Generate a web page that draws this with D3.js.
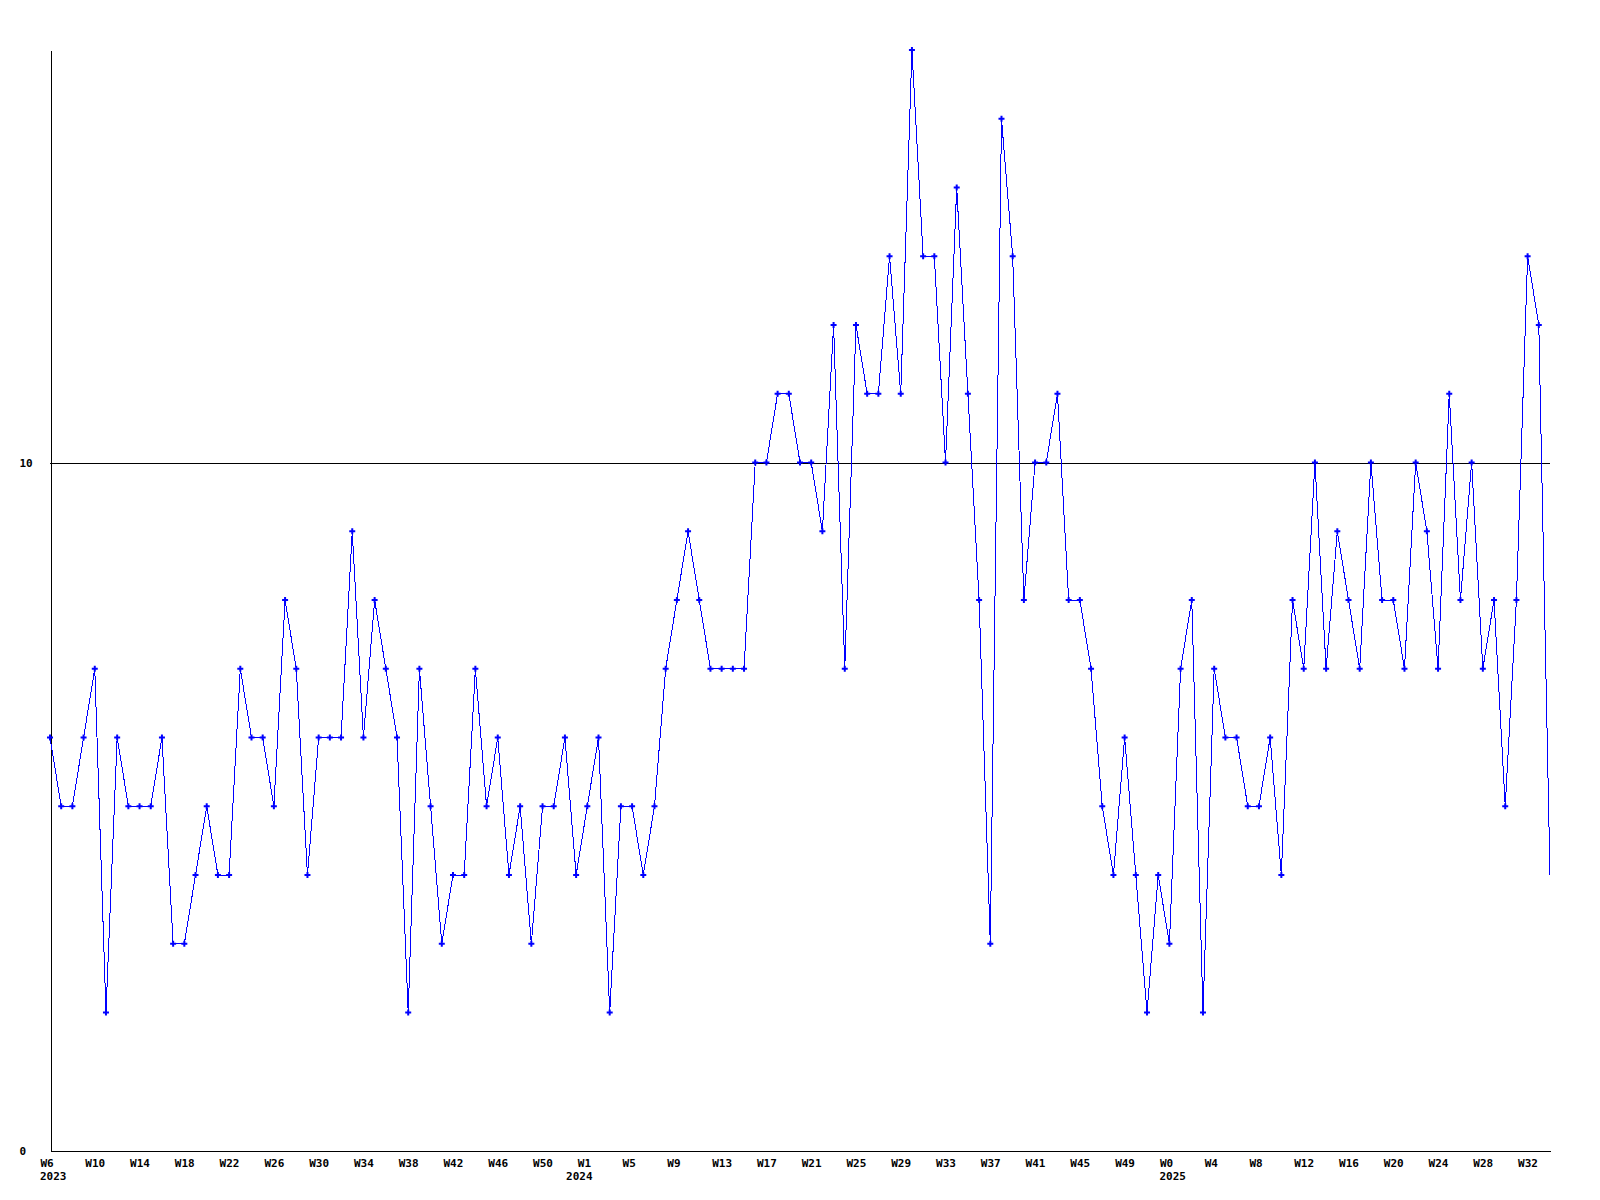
<!DOCTYPE html>
<html>
<head>
<meta charset="utf-8">
<script src="https://cdn.jsdelivr.net/npm/d3@7"></script>
<style>
  html, body { margin: 0; padding: 0; background: #ffffff; }
  svg { display: block; }
  text { font-family: "DejaVu Sans Mono", "Liberation Mono", monospace; font-weight: bold; font-size: 11px; fill: #000; }
</style>
</head>
<body>
<svg id="chart" width="1600" height="1200"></svg>
<script>
// Weekly values (one per week, starting 2023 W6)
const values = [
  6,5,5,6,7,2,6,5,5,5,6,3,3,4,5,4,4,7,6,6,5,8,7,4,6,
  6,6,9,6,8,7,6,2,7,5,3,4,4,7,5,6,4,5,3,5,5,6,4,5,
  6,2,5,5,4,5,7,8,9,8,7,7,7,7,10,10,11,11,10,10,9,12,7,12,11,
  11,13,11,16,13,13,10,14,11,8,3,15,13,8,10,10,11,8,8,7,5,4,6,4,
  2,4,3,7,8,2,7,6,6,5,5,6,4,8,7,10,7,9,8,7,10,8,8,7,10,
  9,7,11,8,10,7,8,5,8,13,12,4
];
// Tick labels, one every 4 weeks
const tickLabels = [
  "W6","W10","W14","W18","W22","W26","W30","W34","W38","W42","W46","W50",
  "W1","W5","W9","W13","W17","W21","W25","W29","W33","W37","W41","W45","W49",
  "W0","W4","W8","W12","W16","W20","W24","W28","W32"
];
// Year labels and the week index (in values) where each year starts
const years = ["2023","2024","2025"];
const yearStart = [0, 47, 100];
const yTicks = [0, 10];
const refLine = 10;
const yMax = 16;
const tickEvery = 4;

const svg = d3.select("#chart");
svg.append("rect").attr("width",1600).attr("height",1200).attr("fill","#fff");

const x = d3.scaleLinear().domain([0, values.length - 1]).range([50, 1550]);
const y = d3.scaleLinear().domain([0, yMax]).range([1150, 50]);

// reference line at 10
svg.append("line")
  .attr("x1", x(0)).attr("x2", x(values.length - 1))
  .attr("y1", Math.round(y(refLine)) + 0.5).attr("y2", Math.round(y(refLine)) + 0.5)
  .attr("stroke", "#000").attr("stroke-width", 1)
  .attr("shape-rendering", "crispEdges");

// Y axis
const yAxis = svg.append("g")
  .attr("transform", "translate(50.5,0)")
  .call(d3.axisLeft(y).tickValues(yTicks).tickSize(0).tickSizeOuter(0).tickFormat(d3.format("d")));
yAxis.select(".domain").attr("stroke", "#000").attr("shape-rendering", "crispEdges");
yAxis.selectAll(".tick text")
  .attr("x", -31).attr("dy", null).attr("y", 4)
  .attr("text-anchor", "start")
  .style("font-family", "DejaVu Sans Mono").style("font-weight","bold").style("font-size","11px");

// X axis
const tickIdx = tickLabels.map((_, i) => i * tickEvery);
const xAxis = svg.append("g")
  .attr("transform", "translate(0,1150.5)")
  .call(d3.axisBottom(x).tickValues(tickIdx).tickSize(0).tickSizeOuter(0)
    .tickFormat((d, i) => tickLabels[i]));
xAxis.select(".domain").attr("stroke", "#000").attr("shape-rendering", "crispEdges");
xAxis.selectAll(".tick text")
  .attr("x", -10).attr("dy", null).attr("y", 16)
  .attr("text-anchor", "start")
  .style("font-family", "DejaVu Sans Mono").style("font-weight","bold").style("font-size","11px");

// Year labels
svg.append("g").selectAll("text")
  .data(years)
  .join("text")
  .attr("x", (d, i) => x(yearStart[i]) - 10)
  .attr("y", 1180)
  .attr("text-anchor", "start")
  .text(d => d);

// Data line
const line = d3.line().x((d, i) => x(i)).y(d => y(d));
svg.append("path")
  .datum(values)
  .attr("d", line)
  .attr("fill", "none")
  .attr("stroke", "#0000ff")
  .attr("stroke-width", 1)
  .attr("shape-rendering", "crispEdges");

// Markers (the last, incomplete week has none)
const sym = d3.symbol().type(d3.symbolCross).size(20);
svg.append("g").selectAll("path")
  .data(values.slice(0, values.length - 1))
  .join("path")
  .attr("transform", (d, i) => `translate(${x(i)},${y(d)})`)
  .attr("d", sym)
  .attr("fill", "#0000ff");
</script>
</body>
</html>
